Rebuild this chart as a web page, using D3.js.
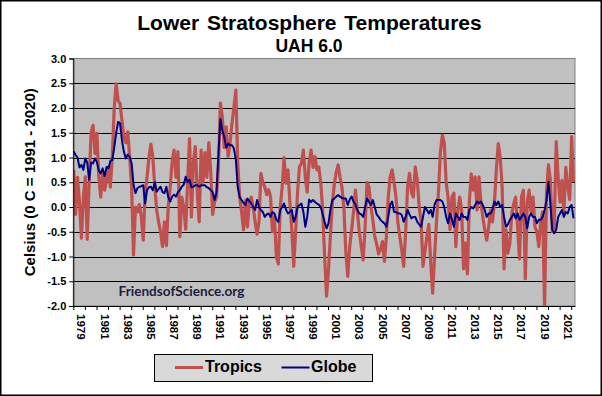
<!DOCTYPE html>
<html><head><meta charset="utf-8">
<script src="https://cdn.jsdelivr.net/npm/d3@7"></script>
<style>
body{margin:0;background:#fff}
svg{display:block}
text{font-family:"Liberation Sans",Arial,sans-serif}
</style>
</head><body>
<svg id="chart" width="602" height="396"></svg>
<script>
// ---------- data ----------
const titleText = "Lower Stratosphere Temperatures";
const subtitleText = "UAH 6.0";
const yTitleText = "Celsius (0 C = 1991 - 2020)";
const watermarkText = "FriendsofScience.org";
const seriesNames = ["Tropics", "Globe"];
const yTicks = [-2.0, -1.5, -1.0, -0.5, 0.0, 0.5, 1.0, 1.5, 2.0, 2.5, 3.0];
const firstYear = 1979;          // first month: Jan 1979
const stepMonths = 2;            // one value every two months (Jan, Mar, May, Jul, Sep, Nov)
const axisEnd = [2022, 4];       // axis runs to May 2022

// Tropics, bimonthly, Jan 1979 .. Mar 2022
const tropics = [
  0.75,-0.15,0.6,0.1,-0.63,0.2,
  0.61,-0.65,0.5,1.5,1.65,1.08,
  1.49,0.6,0.2,0.7,0.34,0.55,
  0.81,0.4,1.0,2.0,2.49,2.15,
  2.09,1.75,1.4,1.3,1.52,1.0,
  0.4,-0.97,0.0,-0.1,0.05,-0.2,
  -0.67,0.3,0.6,1.0,1.27,1.0,
  0.4,-0.06,-0.3,-0.5,-0.8,-0.3,
  -0.78,0.0,0.4,0.9,1.15,0.6,
  1.12,-0.6,0.2,0.0,-0.45,0.5,
  1.38,-0.2,0.9,1.22,0.3,-0.3,
  1.15,0.5,1.1,0.6,1.3,0.7,
  -0.15,0.1,0.2,0.8,2.1,1.82,
  1.2,1.62,1.02,1.28,1.69,2.02,
  2.36,0.9,0.2,-0.1,-0.46,0.14,
  -0.4,0.1,0.2,0.0,-0.3,-0.55,
  -0.3,0.68,0.5,0.4,0.25,0.35,
  0.2,-0.5,-0.2,-1.0,-1.15,0.0,
  0.4,1.0,0.48,0.75,0.1,-0.46,
  -1.2,-0.5,0.3,0.81,0.88,1.15,
  0.6,0.3,0.9,1.15,0.8,1.02,
  0.75,0.81,0.5,-0.06,-1.0,-1.8,
  -1.27,-0.6,0.05,0.45,0.7,0.85,
  0.6,0.4,0.0,-0.9,-1.4,-0.8,
  -0.46,-0.1,0.34,-0.1,-0.5,-0.8,
  -1.07,-0.4,0.5,0.4,0.0,-0.26,
  -0.6,-0.75,-0.95,-0.85,-0.7,-1.1,
  -0.6,0.2,0.61,0.75,0.5,0.2,
  -0.33,-0.6,-0.87,-1.2,-0.5,0.41,
  0.68,0.3,0.2,0.81,0.55,0.0,
  -0.3,-1.2,-0.9,-0.6,-0.35,-1.13,
  -1.74,-1.0,-0.3,0.3,1.1,1.45,
  1.3,0.5,0.2,-0.46,0.2,0.28,
  -0.8,-0.1,0.2,-0.06,-1.25,-0.73,
  -1.35,0.1,0.67,0.34,0.61,-0.06,
  0.61,0.1,-0.2,-0.46,-0.67,-0.4,
  -0.06,-0.3,0.07,0.75,1.28,1.0,
  0.4,-1.25,-0.46,-0.93,-0.73,-0.13,
  0.07,0.2,-0.4,-1.05,0.2,0.34,
  -1.45,0.1,0.34,-0.1,0.2,-0.4,
  -0.5,-0.8,-0.3,-0.1,-2.0,0.3,
  0.85,0.55,-0.5,-0.4,1.32,0.6,
  0.1,0.54,-0.1,0.8,0.4,0.15,
  1.42,0.5
];

// Globe, bimonthly, Jan 1979 .. Mar 2022
const globe = [
  1.12,1.05,1.0,0.8,0.85,0.75,
  0.98,0.9,0.55,0.9,0.88,0.98,
  0.91,0.74,0.68,0.78,0.62,0.81,
  0.78,0.93,0.95,1.2,1.5,1.72,
  1.69,1.35,1.12,0.98,1.06,1.01,
  0.88,0.45,0.28,0.38,0.41,0.42,
  0.44,0.07,0.34,0.4,0.41,0.34,
  0.5,0.31,0.36,0.41,0.3,0.28,
  0.41,0.2,0.11,0.21,0.25,0.21,
  0.3,0.34,0.41,0.45,0.61,0.5,
  0.55,0.4,0.41,0.44,0.44,0.41,
  0.44,0.44,0.44,0.4,0.38,0.34,
  0.3,0.14,0.3,1.08,1.78,1.55,
  1.42,1.2,1.28,1.25,1.25,1.18,
  0.95,0.4,0.2,0.14,0.08,0.04,
  0.17,0.12,0.07,0.0,-0.06,0.14,
  0.0,-0.06,-0.1,-0.2,-0.15,-0.13,
  -0.2,-0.1,-0.13,-0.25,-0.3,-0.06,
  0.0,0.07,-0.05,-0.13,-0.1,-0.06,
  -0.3,-0.2,0.0,0.04,0.07,-0.1,
  -0.4,-0.2,0.15,0.1,0.14,0.1,
  0.07,0.05,0.0,-0.15,-0.3,-0.43,
  -0.33,-0.06,0.14,0.17,0.21,0.24,
  0.21,0.18,0.17,0.17,0.04,0.15,
  0.21,0.11,0.05,-0.06,-0.13,-0.15,
  -0.2,0.0,0.17,0.1,0.04,0.14,
  0.0,-0.15,-0.2,-0.26,-0.3,-0.33,
  -0.4,-0.2,0.05,0.11,-0.1,-0.1,
  -0.13,-0.13,-0.16,-0.3,-0.2,-0.06,
  -0.15,-0.23,-0.2,-0.2,-0.3,-0.35,
  -0.4,-0.2,0.0,-0.06,-0.13,-0.06,
  -0.2,0.05,0.14,0.14,0.14,0.11,
  0.0,-0.2,-0.33,-0.13,-0.25,-0.4,
  -0.13,-0.2,-0.26,-0.13,-0.2,-0.2,
  -0.26,-0.06,0.0,-0.03,0.04,0.11,
  0.07,0.11,0.04,-0.06,-0.2,-0.13,
  -0.13,-0.06,0.11,0.04,0.11,0.0,
  0.04,-0.2,-0.4,-0.35,-0.26,-0.2,
  -0.13,-0.23,-0.13,-0.26,-0.2,-0.13,
  -0.2,-0.43,-0.2,-0.13,-0.2,-0.2,
  -0.33,-0.26,-0.26,-0.2,-0.06,0.14,
  0.51,0.07,-0.46,-0.53,-0.46,-0.2,
  -0.13,-0.06,-0.2,-0.1,-0.13,0.0,
  0.04,-0.23
];

// ---------- chart ----------
const W = 602, H = 396;
const plot = {left: 73.3, right: 575, top: 58.5, bottom: 306};
const svg = d3.select("#chart");

const dateOf = i => new Date(firstYear, i * stepMonths, 15);
const x = d3.scaleTime()
  .domain([new Date(firstYear, 0, 1), new Date(axisEnd[0], axisEnd[1], 1)])
  .range([plot.left, plot.right]);
const y = d3.scaleLinear().domain([-2, 3]).range([plot.bottom, plot.top]);

// outer border
svg.append("rect").attr("x", 0.75).attr("y", 0.75).attr("width", W - 1.5).attr("height", H - 1.5)
  .attr("fill", "#fff").attr("stroke", "#000").attr("stroke-width", 1.5);

// titles
svg.append("text").attr("x", 309.5).attr("y", 30).attr("text-anchor", "middle")
  .attr("font-size", 21).attr("font-weight", "bold").attr("word-spacing", 2).text(titleText);
svg.append("text").attr("x", 309).attr("y", 51.5).attr("text-anchor", "middle")
  .attr("font-size", 17.5).attr("font-weight", "bold").text(subtitleText);

// plot background
svg.append("rect").attr("x", plot.left).attr("y", plot.top)
  .attr("width", plot.right - plot.left).attr("height", plot.bottom - plot.top)
  .attr("fill", "#C0C0C0").attr("stroke", "#808080").attr("stroke-width", 1);

// gridlines
svg.append("g").selectAll("line").data(yTicks.filter(v => v > -2 && v < 3)).join("line")
  .attr("x1", plot.left).attr("x2", plot.right)
  .attr("y1", d => Math.round(y(d)) + 0.5).attr("y2", d => Math.round(y(d)) + 0.5)
  .attr("stroke", "#000").attr("stroke-width", 1);

// watermark
svg.append("text").attr("x", 118.5).attr("y", 295.7)
  .style("font-family", "Lato, 'Open Sans', sans-serif")
  .attr("font-size", 13.6).attr("font-weight", "bold").attr("fill", "#1c1c3e").text(watermarkText);

// series
svg.append("clipPath").attr("id", "pc").append("rect")
  .attr("x", plot.left).attr("y", plot.top - 1)
  .attr("width", plot.right - plot.left).attr("height", plot.bottom - plot.top + 1);
const line = d3.line().x((d, i) => x(dateOf(i))).y(d => y(d));
svg.append("path").datum(tropics).attr("d", line).attr("fill", "none")
  .attr("stroke", "#C0504D").attr("stroke-width", 3.2).attr("stroke-linejoin", "round")
  .attr("clip-path", "url(#pc)");
svg.append("path").datum(globe).attr("d", line).attr("fill", "none")
  .attr("stroke", "#000080").attr("stroke-width", 2).attr("stroke-linejoin", "round")
  .attr("clip-path", "url(#pc)");

// y axis
const yAxis = d3.axisLeft(y).tickValues(yTicks).tickFormat(d => d.toFixed(1)).tickSize(4).tickPadding(3);
const gy = svg.append("g").attr("transform", `translate(${plot.left},0)`).call(yAxis);
gy.select(".domain").attr("stroke", "#000");
gy.selectAll("text").attr("font-size", 11).attr("font-weight", "bold")
  .style("font-family", "'Liberation Sans', Arial, sans-serif").attr("fill", "#000");

// x axis
const years = d3.range(firstYear, axisEnd[0] + 1);
const xAxis = d3.axisBottom(x).tickValues(years.map(yr => new Date(yr, 0, 1)))
  .tickFormat(d => (d.getFullYear() % 2 === 1 ? String(d.getFullYear()) : "")).tickSize(4).tickSizeOuter(0);
const gx = svg.append("g").attr("transform", `translate(0,${plot.bottom})`).call(xAxis);
gx.select(".domain").attr("stroke", "#000");
gx.selectAll("text").attr("font-size", 11.5).attr("font-weight", "bold")
  .style("font-family", "'Liberation Sans', Arial, sans-serif").attr("fill", "#000")
  .attr("transform", "rotate(90)").attr("text-anchor", "start")
  .attr("x", 8).attr("y", 0).attr("dy", "-0.32em").attr("dx", 0);

// y axis title
svg.append("text").attr("transform", `translate(35,${(plot.top + plot.bottom) / 2}) rotate(-90)`)
  .attr("text-anchor", "middle").attr("font-size", 15).attr("font-weight", "bold").text(yTitleText);

// legend
const lg = svg.append("g");
lg.append("rect").attr("x", 154.5).attr("y", 354.5).attr("width", 218).attr("height", 27)
  .attr("fill", "#D9D9D9").attr("stroke", "#000").attr("stroke-width", 1);
const legendItems = [
  {name: seriesNames[0], color: "#C0504D", w: 3, x1: 175, x2: 203, tx: 205},
  {name: seriesNames[1], color: "#000080", w: 2, x1: 281.5, x2: 309.5, tx: 311}
];
legendItems.forEach(it => {
  lg.append("line").attr("x1", it.x1).attr("x2", it.x2).attr("y1", 367.5).attr("y2", 367.5)
    .attr("stroke", it.color).attr("stroke-width", it.w);
  lg.append("text").attr("x", it.tx).attr("y", 372).attr("font-size", 16).attr("font-weight", "bold").text(it.name);
});
</script>
</body></html>
